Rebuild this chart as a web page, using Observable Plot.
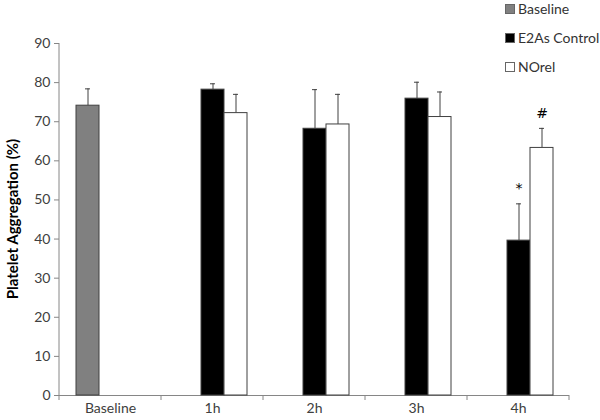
<!DOCTYPE html>
<html>
<head>
<meta charset="utf-8">
<script src="https://cdn.jsdelivr.net/npm/d3@7"></script>
<script src="https://cdn.jsdelivr.net/npm/@observablehq/plot@0.6"></script>
<style>
  body { margin: 0; background: #fff; }
  #wrap { position: relative; width: 600px; height: 420px; font-family: Lato, sans-serif; }
  #chart { position: absolute; left: 0; top: 0; }
  .legend { position: absolute; left: 505px; font-size: 14px; color: #333; display: flex; align-items: center; }
  .legend span.sw { display: inline-block; width: 8px; height: 8px; margin-right: 3px; border: 1px solid #666; }
</style>
</head>
<body>
<div id="wrap">
  <div id="chart"></div>
  <div id="legend"></div>
</div>
<script>
const categories = ["Baseline", "1h", "2h", "3h", "4h"];
const series = ["Baseline", "E2As Control", "NOrel"];
const seriesColors = ["#808080", "#000000", "#ffffff"];
const barCategory = ["Baseline", "1h", "1h", "2h", "2h", "3h", "3h", "4h", "4h"];
const barSeries = ["Baseline", "E2As Control", "NOrel", "E2As Control", "NOrel", "E2As Control", "NOrel", "E2As Control", "NOrel"];
const barMean = [74.1, 78.2, 72.2, 68.2, 69.3, 75.9, 71.2, 39.6, 63.3];
const barError = [4.3, 1.5, 4.8, 10.0, 7.7, 4.2, 6.4, 9.4, 5.0];
const barMarks = ["", "", "", "", "", "", "", "*", "#"];
const yTicks = [0, 10, 20, 30, 40, 50, 60, 70, 80, 90];
const yTitle = "Platelet Aggregation (%)";

const data = barMean.map((m, i) => ({
  cat: barCategory[i], series: barSeries[i], mean: m, top: m + barError[i], mark: barMarks[i]
}));

const chart = Plot.plot({
  width: 600,
  height: 420,
  marginTop: 43,
  marginBottom: 25,
  marginLeft: 58,
  marginRight: 30,
  style: { fontFamily: "Lato, sans-serif", fontSize: "14px", color: "#404040", background: "transparent" },
  fx: { domain: categories, padding: 0, label: null, axis: "bottom", tickSize: 0, tickPadding: 8 },
  x: { domain: series, paddingInner: 0, paddingOuter: 0.66, axis: null },
  y: { domain: [0, 90], ticks: yTicks, tickSize: 5, tickPadding: 4, label: null },
  color: { domain: series, range: seriesColors },
  marks: [
    Plot.ruleY([0], { stroke: "#868686" }),
    Plot.ruleX(data, { fx: "cat", x: "series", y1: "mean", y2: "top", stroke: "#404040", strokeWidth: 1 }),
    Plot.tickY(data, { fx: "cat", x: "series", y: "top", stroke: "#404040", insetLeft: 9, insetRight: 9 }),
    Plot.barY(data, { fx: "cat", x: "series", y: "mean", fill: "series", stroke: "#404040", strokeWidth: 1 }),
    Plot.text(data, { fx: "cat", x: "series", y: "top", text: "mark", dy: -15, fontSize: 14, fontFamily: "DejaVu Sans", fill: "#000" }),
    Plot.axisY({ ticks: yTicks, tickSize: 5, tickPadding: 4, stroke: "#868686", fontSize: 14, label: null })
  ]
});
document.getElementById("chart").appendChild(chart);

// Category boundary ticks, y axis line and y title, positioned with the chart's own scales
const fx = chart.scale("fx");
const y = chart.scale("y");
const svg = d3.select(chart);
const y0 = y.apply(0);
const g = svg.append("g").attr("stroke", "#868686");
const edges = categories.map(c => fx.apply(c)).concat([fx.apply(categories[categories.length - 1]) + fx.bandwidth]);
edges.forEach(px => {
  g.append("line").attr("x1", px).attr("x2", px).attr("y1", y0).attr("y2", y0 + 5);
});
g.append("line").attr("x1", edges[0]).attr("x2", edges[0]).attr("y1", y.apply(90)).attr("y2", y0);
svg.append("text")
  .attr("transform", `translate(14,${(y.apply(90) + y0) / 2}) rotate(-90)`)
  .attr("text-anchor", "middle").attr("dominant-baseline", "middle")
  .attr("font-size", 15).attr("font-weight", "bold").attr("fill", "#000")
  .text(yTitle);

// Legend
const legend = document.getElementById("legend");
const legendTops = [0, 29, 58];
series.forEach((s, i) => {
  const d = document.createElement("div");
  d.className = "legend";
  d.style.top = legendTops[i] + "px";
  d.innerHTML = `<span class="sw" style="background:${seriesColors[i]}"></span>${s}`;
  legend.appendChild(d);
});
</script>
</body>
</html>
